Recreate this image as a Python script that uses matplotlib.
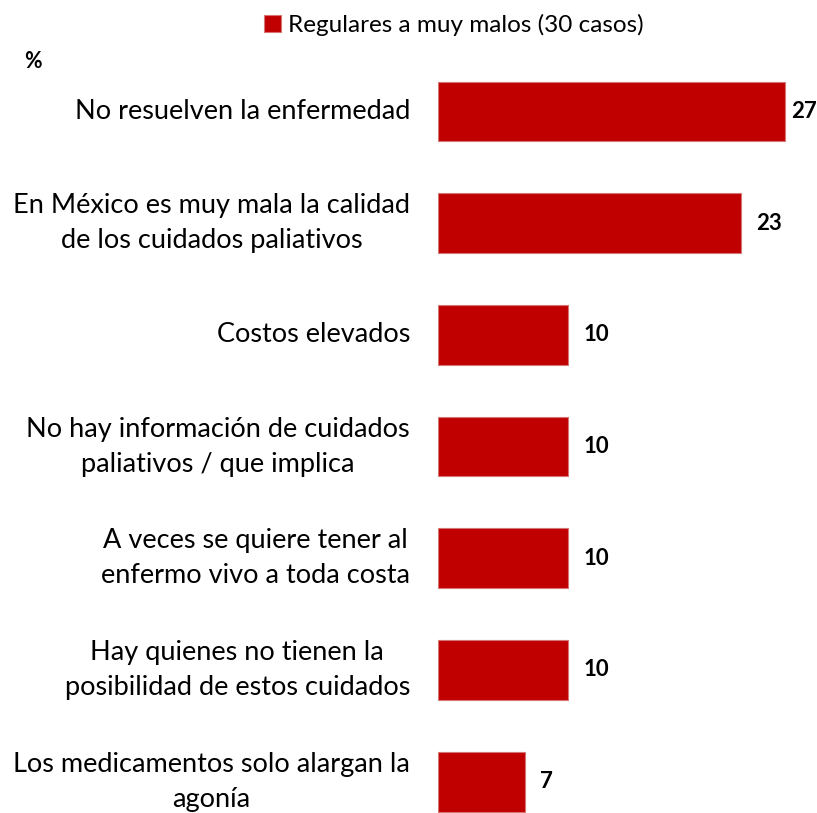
import matplotlib
matplotlib.use("Agg")
import matplotlib.pyplot as plt

categories = [
    "No resuelven la enfermedad",
    "En México es muy mala la calidad\nde los cuidados paliativos",
    "Costos elevados",
    "No hay información de cuidados\npaliativos / que implica",
    "A veces se quiere tener al\nenfermo vivo a toda costa",
    "Hay quienes no tienen la\nposibilidad de estos cuidados",
    "Los medicamentos solo alargan la\nagonía",
]
values = [26.7, 23.3, 10.0, 10.0, 10.0, 10.0, 6.7]
value_labels = ["27", "23", "10", "10", "10", "10", "7"]
series_name = "Regulares a muy malos (30 casos)"

FONT = ["Lato", "DejaVu Sans"]
plt.rcParams["font.family"] = FONT

W, H = 817, 813
fig = plt.figure(figsize=(W / 100, H / 100), dpi=100)

ax_left = 438 / W
px_per_unit = 13.01
xmax = 28
ax_w = xmax * px_per_unit / W
ax = fig.add_axes([ax_left, 0, ax_w, 1])

pitch = 111.67
first_center = 111.5
ytop = -first_center / pitch
ybot = (H - first_center) / pitch

ypos = list(range(len(values)))
bars = ax.barh(ypos, values, height=0.537, color="#C00000",
               edgecolor="#D77575", linewidth=0.8, label=series_name)
ax.set_xlim(0, xmax)
ax.set_ylim(ybot, ytop)
ax.axis("off")

for y, v, lab in zip(ypos, values, value_labels):
    end_px = ax.transData.transform((v, y))[0]
    off = min(15, 791 - end_px)
    ax.annotate(lab, (v, y), xytext=(off, 0), textcoords="offset pixels",
                ha="left", va="center", fontsize=16, fontweight="bold",
                color="black", annotation_clip=False)

for y, cat in zip(ypos, categories):
    ax.annotate(cat, (0, y), xytext=(-28, 0), textcoords="offset pixels",
                ha="right", va="center", multialignment="center",
                fontsize=19.5, color="black", linespacing=1.5,
                annotation_clip=False)

fig.text(24 / W, 1 - 61 / H, "%", fontsize=15.5, fontweight="bold",
         ha="left", va="center")

fig.legend(handles=[bars], labels=[series_name], loc="center left",
           bbox_to_anchor=(264 / W, 1 - 25 / H), frameon=False,
           fontsize=17.5, handlelength=0.7, handleheight=0.7,
           handletextpad=0.3, borderaxespad=0, borderpad=0)

fig.savefig("out.png", dpi=100)
